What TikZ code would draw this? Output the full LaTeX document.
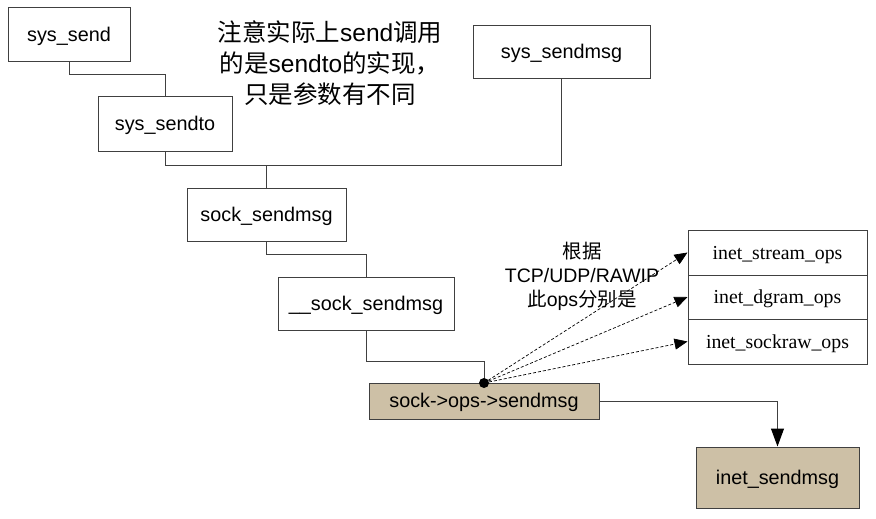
\documentclass[tikz,border=0pt]{standalone}
\usepackage{fontspec}
\setmainfont{Liberation Sans}
\newfontfamily\cjk{Noto Sans CJK SC}
\newfontfamily\serifops{Liberation Serif}
\usetikzlibrary{arrows.meta,calc}
\definecolor{linegray}{HTML}{404040}
\definecolor{tan}{HTML}{CDC0A6}
\tikzset{
  fbox/.style={draw=linegray, line width=1pt, inner sep=0pt, text height=17pt, text depth=4pt, font=\fontsize{19.8}{22}\selectfont},
  opsbox/.style={fbox, minimum width=179pt, font=\serifops\fontsize{19.8}{22}\selectfont},
  conn/.style={draw=linegray, line width=1pt},
  dasharrow/.style={draw=black, line width=0.7pt, dash pattern=on 3pt off 2pt, -{Triangle[length=13pt,width=11pt]}},
  mainarrow/.style={conn, -{Triangle[length=18pt,width=13pt,color=black]}},
}
\begin{document}
\begin{tikzpicture}[x=1pt,y=-1pt]
\useasboundingbox (0,0) rectangle (876,519);
% boxes
\node[fbox, minimum width=122pt, minimum height=54pt] (send) at (69,35) {sys\_send};
\node[fbox, minimum width=134pt, minimum height=54pt] (sendto) at (165,124) {sys\_sendto};
\node[fbox, minimum width=177pt, minimum height=53pt] (sendmsg) at (561.5,52.5) {sys\_sendmsg};
\node[fbox, minimum width=159pt, minimum height=53pt] (socksend) at (266.5,214.5) {sock\_sendmsg};
\node[fbox, minimum width=176pt, minimum height=53pt] (usock) at (366,303.5) {\_\_sock\_sendmsg};
\node[fbox, fill=tan, minimum width=230pt, minimum height=36pt] (opssend) at (484,401) {sock->ops->sendmsg};
\node[fbox, fill=tan, minimum width=163pt, minimum height=61pt] (inet) at (777.5,477.5) {inet\_sendmsg};
\node[opsbox, minimum height=45pt] (stream) at (777.5,252.5) {inet\_stream\_ops};
\node[opsbox, minimum height=44pt] (dgram) at (777.5,297) {inet\_dgram\_ops};
\node[opsbox, minimum height=45pt] (raw) at (777.5,341.5) {inet\_sockraw\_ops};
% annotations
\node[align=center, inner sep=0pt, font=\fontsize{24.5}{31}\selectfont] (note1) at (330,63)
  {{\cjk 注意实际上}send{\cjk 调用}\\{\cjk 的是}sendto{\cjk 的实现，}\\{\cjk 只是参数有不同}};
\node[align=center, inner sep=0pt, font=\fontsize{19.5}{24}\selectfont] (note2) at (582,276)
  {{\cjk 根据}\\TCP/UDP/RAWIP\\{\cjk 此}ops{\cjk 分别是}};
% connectors
\coordinate (j1) at (165,75);
\draw[conn] (send.south) |- (j1) -- (sendto.north);
\coordinate (j2) at (165,165);
\draw[conn] (sendto.south) -- (j2) -| (sendmsg.south);
\draw[conn] (socksend.north) -- (socksend.north |- j2);
\coordinate (j3) at (366,254);
\draw[conn] (socksend.south) |- (j3) -- (usock.north);
\coordinate (j4) at (484,361);
\coordinate (dot) at (484,383);
\draw[conn] (usock.south) |- (j4) -- (dot);
\fill (dot) circle (5pt);
\draw[dasharrow] (dot) -- (stream.west);
\draw[dasharrow] (dot) -- (dgram.west);
\draw[dasharrow] (dot) -- (raw.west);
\draw[mainarrow] (opssend.east) -| (inet.north);
\end{tikzpicture}
\end{document}
